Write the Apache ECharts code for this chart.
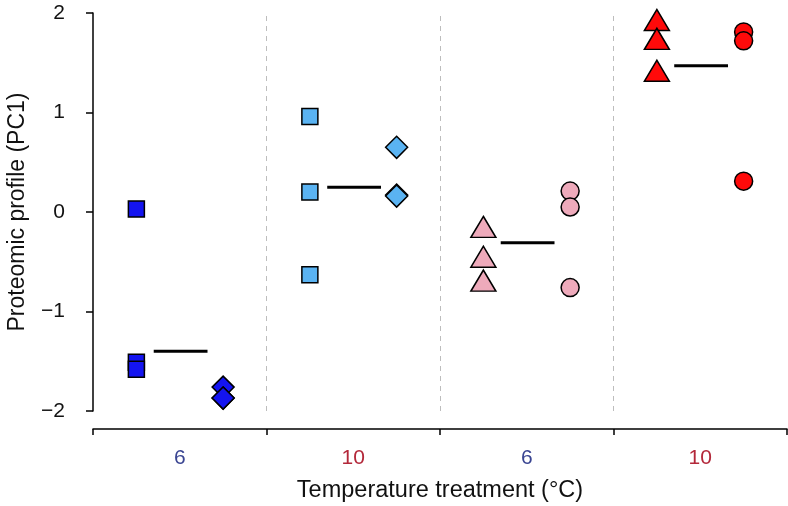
<!DOCTYPE html>
<html>
<head>
<meta charset="utf-8">
<script src="https://cdn.jsdelivr.net/npm/echarts@6/dist/echarts.min.js"></script>
<style>
html,body{margin:0;padding:0;background:#fff;}
#chart{width:788px;height:506px;}
</style>
</head>
<body>
<div id="chart"></div>
<script>
// Category tick labels (temperature treatment, °C)
const categories = ['6', '10', '6', '10'];
const categoryColors = ['#3a4592', '#b3283a', '#3a4592', '#b3283a'];
// Y tick values
const yTicks = [-2, -1, 0, 1, 2];

// Group 1 (6 °C, dark blue)
const g1Squares = [0.03, -1.51, -1.58];
const g1Diamonds = [-1.76, -1.87, -1.87];
// Group 2 (10 °C, light blue)
const g2Squares = [0.96, 0.20, -0.63];
const g2Diamonds = [0.65, 0.17, 0.16];
// Group 3 (6 °C, pink)
const g3Triangles = [-0.15, -0.45, -0.69];
const g3Circles = [0.21, 0.05, -0.76];
// Group 4 (10 °C, red)
const g4Triangles = [1.93, 1.74, 1.42];
const g4Circles = [1.81, 1.72, 0.31];
// Group means (horizontal bars)
const groupMeans = [-1.40, 0.25, -0.31, 1.47];

const FONT = 'Liberation Sans, Arial, Helvetica, sans-serif';
const groupFill = ['#1414f0', '#5ab3f2', '#eeaabb', '#ff0a0a'];

function pts(vals, g, offset) {
  return vals.map(v => [g + offset, v]);
}
function markerSeries(vals, g, offset, symbol, size) {
  return {
    type: 'scatter',
    xAxisIndex: 0,
    yAxisIndex: 0,
    data: pts(vals, g, offset),
    symbol: symbol,
    symbolSize: size,
    itemStyle: { color: groupFill[g], borderColor: '#000', borderWidth: 1.5, opacity: 1 },
    emphasis: { disabled: true },
    z: 3
  };
}

const series = [
  markerSeries(g1Squares, 0, 0.25, 'rect', 16),
  markerSeries(g1Diamonds, 0, 0.75, 'diamond', 22),
  markerSeries(g2Squares, 1, 0.25, 'rect', 16),
  markerSeries(g2Diamonds, 1, 0.75, 'diamond', 22),
  markerSeries(g3Triangles, 2, 0.25, 'triangle', [25, 21]),
  markerSeries(g3Circles, 2, 0.75, 'circle', 18),
  markerSeries(g4Triangles, 3, 0.25, 'triangle', [25, 21]),
  markerSeries(g4Circles, 3, 0.75, 'circle', 18)
];

groupMeans.forEach((m, g) => {
  series.push({
    type: 'line',
    xAxisIndex: 0,
    yAxisIndex: 0,
    data: [[g + 0.35, m], [g + 0.66, m]],
    symbol: 'none',
    lineStyle: { color: '#000', width: 3 },
    silent: true,
    z: 2
  });
});

// dashed separators between groups
series.push({
  type: 'line',
  xAxisIndex: 0,
  yAxisIndex: 0,
  data: [],
  markLine: {
    silent: true,
    symbol: ['none', 'none'],
    label: { show: false },
    lineStyle: { color: '#bdbdbd', type: [5, 5], width: 1 },
    data: [{ xAxis: 1 }, { xAxis: 2 }, { xAxis: 3 }]
  },
  z: 1
});

const chart = echarts.init(document.getElementById('chart'), null, { renderer: 'canvas' });
chart.setOption({
  animation: false,
  backgroundColor: '#fff',
  grid: { left: 93, right: 1, top: 13, bottom: 95, containLabel: false, outerBoundsMode: 'none' },
  xAxis: [
    { type: 'value', min: 0, max: 4, show: false, gridIndex: 0 },
    {
      type: 'category',
      gridIndex: 0,
      position: 'bottom',
      data: categories,
      boundaryGap: true,
      offset: 18,
      axisLine: { show: true, lineStyle: { color: '#000', width: 1.5 } },
      axisTick: { show: true, length: 6, lineStyle: { color: '#000', width: 1.5 } },
      axisLabel: {
        margin: 19,
        fontSize: 21,
        fontFamily: FONT,
        color: (v, i) => categoryColors[i]
      },
      splitLine: { show: false },
      name: 'Temperature treatment (°C)',
      nameLocation: 'middle',
      nameGap: 50,
      nameTextStyle: { fontSize: 23.5, fontFamily: FONT, color: '#111' }
    }
  ],
  yAxis: {
    type: 'value',
    min: yTicks[0],
    max: yTicks[yTicks.length - 1],
    interval: 1,
    offset: 12,
    axisLine: { show: true, lineStyle: { color: '#000', width: 1.5 } },
    axisTick: { show: true, length: 7, lineStyle: { color: '#000', width: 1.5 } },
    axisLabel: {
      margin: 16,
      fontSize: 21,
      fontFamily: FONT,
      color: '#111',
      formatter: v => String(v).replace('-', '\u2212')
    },
    splitLine: { show: false },
    name: 'Proteomic profile (PC1)',
    nameLocation: 'middle',
    nameRotate: 90,
    nameGap: 52,
    nameTextStyle: { fontSize: 23, fontFamily: FONT, color: '#111' }
  },
  series: series
});
</script>
</body>
</html>
